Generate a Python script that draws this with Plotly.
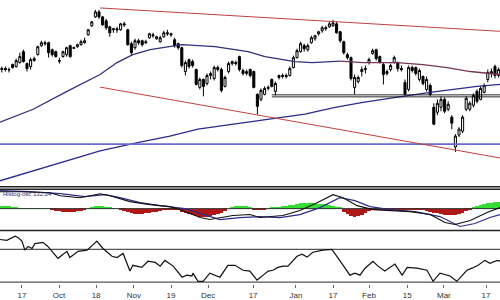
import plotly.graph_objects as go

# ---------------- data ----------------
opens = [130,131,130,135,133,137,148,136,133,139,145,154,157,157,150,148,139,143,145,154,
         152,153,155,157,165,174,183,188,183,179,173,170,171,170,176,170,156,152,159,159,
         158,162,165,161,158,163,167,166,160,156,152,128,140,138,130,112,120,116,124,121,
         132,130,113,128,136,137,143,129,126,130,128,105,100,105,111,120,108,122,123,124,
         124,132,142,148,154,150,157,161,166,169,171,173,174,176,168,158,145,142,112,118,
         128,130,137,146,150,143,135,126,130,137,137,131,117,110,132,132,120,123,110,114,
         92,87,92,100,90,82,52,64,68,90,90,94,108,100,107,120,126,133,124]
highs = [133,133,132,136,141,147,150,137,142,143,154,159,159,158,151,149,142,149,153,155,
         153,156,160,162,171,179,190,190,184,181,174,172,173,177,178,171,158,161,161,160,
         160,167,167,164,164,169,170,167,162,157,153,139,141,140,131,122,121,126,128,134,
         134,132,124,138,139,139,144,131,130,131,129,106,111,113,114,121,118,125,126,126,
         133,144,151,158,156,156,164,165,169,174,174,178,180,178,169,159,147,143,125,124,
         133,134,142,151,151,144,137,130,136,144,138,134,120,134,134,133,131,124,123,116,
         96,100,103,102,98,84,65,72,84,103,98,106,110,113,116,130,131,135,132]
lows = [127,128,127,131,132,136,137,128,130,138,144,153,154,142,143,142,136,142,143,142,
        151,152,154,156,164,173,182,181,174,170,163,167,167,169,173,154,144,150,155,153,
        156,161,162,160,157,162,164,163,152,150,132,124,131,132,114,110,103,114,120,119,
        128,107,112,126,134,134,128,124,124,122,111,85,98,104,109,112,104,120,121,121,
        123,131,141,147,148,148,156,159,164,167,169,172,173,166,157,145,140,119,105,116,
        123,126,135,145,139,136,115,124,128,136,128,128,104,108,127,124,118,114,108,103,
        74,84,88,86,88,70,47,62,66,88,88,92,96,99,106,117,122,121,122]
closes = [131,130,129.7,132,139,143,138,131,140,141,153,157,156,147,145,143,138.5,148,152,143,
          151.5,155,158,159,170,178,188,183,175,172,167,171,170,176,175,155,147,159,157,155,
          157,166,164,163,162,167,166,165,154,152,134,137,133,134,115,120,113,124,126,132,
          130,109,122,136,138,136,130,126,128,124,112,93,109,111,112,113,116,124,124,123,
          131,142,149,156,151,154,162,164,168,172,172,176,177,167,159,147,142,121,122,122,
          130,131,140,149,141,137,125,128,134,142,131,130,105,132,129,126,129,116,120,105,
          75,96,100,88,95,76,63,70,82,101,96,104,98,111,114,127,128,124,130]
sessions = list(range(len(opens)))

# 50-session moving average (sparse readings: session, value)
ma50_s = [-0.5, 8.7, 18.1, 27.3, 32, 36.4, 41.2, 46.7, 50.1, 59.2, 68.4, 73.1, 77.8, 81.4, 86.2, 89.8, 94]
ma50_v = [77, 90, 108, 125, 137, 145, 150, 153, 155, 153, 148, 143, 140, 138, 137, 138, 138.5]
ma50b_s = [94, 100.3, 109.8, 117, 123.7, 130.1, 138.4]
ma50b_v = [138.5, 137, 137, 135, 132, 128, 125]
# 200-session moving average
ma200_s = [-0.5, 13.4, 27.3, 38.4, 46.7, 54.5, 64, 76.7, 84.2, 92.6, 100.3, 111.4, 119, 132, 138.4]
ma200_v = [18, 33, 48, 57, 63, 70, 75, 81, 85, 92, 97, 103, 107, 113, 115]
# trend channel (start/end session, value)
upper_s = [27.3, 138.4]
upper_v = [192, 168.5]
lower_s = [27.3, 138.4]
lower_v = [112.3, 41]
support_level = 55
box_levels = [104.5, 102.5]
box_start = 75

# MACD panel
hist = [3,3,3,2,
        1,0.5,0.5,0.5,0.5,0.5,0.3,0.3,0.3,0,
        -1,-2,-2.5,-3,-3,-3,-3,-2.5,-2,
        -1,0.5,
        2,3,3,3,2,
        1,0.5,0,-0.5,
        -2,-3,-4,-5,-5,-5,-4.5,-4,-3.5,-3,-2,
        -1,-1,-1,-1,-1.5,
        -3,-4,-5,-6,-7,-8,-8,-8,-7,-6,-5,-4,-2,
        0,
        2,3,3,3,2.5,1,
        -1,-1.5,-1.5,-1,
        0.5,1,1.5,
        2,2.5,3,3.5,4,5,5.5,6,6,6,5.5,5,5,4.5,4,
        3,2,1,
        -3,-5,-7,-8,-7,-6,-4,-2,
        -1,-1,-1,-1.5,-1.5,-1,-0.5,-0.5,-0.5,-0.5,
        -0.5,-0.5,-0.5,-1,-1,-2,
        -3,-4,-4,-5,-6,-6,-6,-6,-5,-4,-2,-1,
        2,3,4,5,6,6,7,7]
macd_s = [-0.5, 5.1, 13.4, 16.2, 21.7, 27.3, 30.1, 35.6, 41.2, 46.7, 49.5, 55.1, 57.8, 61.4, 64.2, 68.9,
          71.7, 78.1, 82.8, 87.6, 92, 94.8, 98.7, 103.1, 107.8, 113.4, 119, 123.1, 125.9, 130.1, 134.8, 138.4]
macd_v = [17, 17, 16, 13, 11, 15, 13, 7, 4, 2, -1, -9, -11, -9, -7, -6,
          -9, -7, -2, 6, 14, 11, 3, -1, -2, -3, -6, -14, -16, -12, -4, 1]
signal_s = [-0.5, 7.8, 16.2, 23.1, 28.7, 32.8, 38.4, 43.9, 50.9, 56.4, 60.6, 66.2, 71.7, 77.3, 82.8,
            88.4, 93.9, 98.1, 102.3, 107.8, 114.8, 121.7, 127.3, 131.4, 135.6, 138.4]
signal_v = [18, 17, 15, 12, 14, 11, 6, 3, 0, -6, -11, -9, -8, -9, -6,
            1, 11, 8, 2, -1, -3, -8, -18, -15, -9, -6]
macd_label = "Histog-osc 132.24"

# RSI panel
rsi_s = [-0.5, 1.4, 3.7, 4.5, 5.6, 6.4, 7.3, 8.4, 9.2, 11.4, 12.8, 15.6, 18.1, 18.9, 21.2, 23.7, 26.4, 28.1,
         30.6, 32, 33.7, 35.6, 36.4, 38.9, 40.6, 42.6, 44, 45.3, 47.6, 50.1, 51.4, 52.8, 53.1, 54.5, 55.9,
         57.8, 60.6, 62.8, 64.8, 67, 68.9, 70.9, 72.6, 74, 75.3, 76.7, 78.1, 79.5, 82, 83.4, 84.8, 86.4,
         89.2, 91.7, 94, 96.7, 98.1, 99.5, 100.9, 103.1, 104.5, 106.4, 109.2, 111.2, 112.6, 115.3, 118.1,
         119.8, 121.7, 124.5, 126.4, 129.2, 130.6, 132.3, 134.2, 135.6, 137.6, 138.4]
rsi_v = [82, 81, 86, 84.5, 80, 69, 73.5, 71, 77, 78.5, 73.5, 59, 67.5, 60, 67.5, 69, 80, 71,
         61.5, 60, 65, 43.5, 50.5, 48, 55.5, 54, 49.5, 56.5, 49.5, 36, 38.5, 37.5, 41, 31, 31,
         41, 36, 50.5, 50.5, 44.5, 43.5, 32.5, 38.5, 43.5, 44.5, 48, 49.5, 49.5, 61.5, 64, 60.5, 66.5,
         69, 70, 55.5, 38.5, 41, 38.5, 47, 55.5, 49.5, 43.5, 52, 38.5, 48, 47, 44.5,
         31, 41, 37.5, 31, 44.5, 47, 50.5, 56.5, 53, 56.5, 55.5]
rsi_levels = [70, 30]

tick_pos = [5.6, 15.9, 26.2, 36.7, 47, 57.3, 69.8, 81.7, 92, 102, 112.6, 122.8, 134.5]
tick_text = ["17", "Oct", "18", "Nov", "19", "Dec", "17", "Jan", "17", "Feb", "15", "Mar", "17"]

# ---------------- figure ----------------
xr = [-0.5, 500 / 3.6 - 0.5]

fig = go.Figure()

line_kw = dict(mode="lines", hoverinfo="skip", showlegend=False)
fig.add_trace(go.Scatter(x=ma200_s, y=ma200_v, line=dict(color="#2c2c8c", width=1.3), **line_kw))
fig.add_trace(go.Scatter(x=[xr[0], xr[1]], y=[support_level] * 2, line=dict(color="#6a6ad0", width=1.8), **line_kw))
fig.add_trace(go.Scatter(x=upper_s, y=upper_v, line=dict(color="#c04040", width=1), **line_kw))
fig.add_trace(go.Scatter(x=lower_s, y=lower_v, line=dict(color="#c04040", width=1), **line_kw))
fig.add_trace(go.Scatter(x=ma50_s, y=ma50_v, line=dict(color="#30307e", width=1.3), **line_kw))
fig.add_trace(go.Scatter(x=ma50b_s, y=ma50b_v, line=dict(color="#7a3456", width=1.3), **line_kw))
for lv in box_levels:
    fig.add_trace(go.Scatter(x=[box_start, xr[1]], y=[lv, lv], line=dict(color="#111111", width=0.9), **line_kw))

fig.add_trace(go.Candlestick(
    x=sessions, open=opens, high=highs, low=lows, close=closes,
    increasing=dict(line=dict(color="black", width=1), fillcolor="white"),
    decreasing=dict(line=dict(color="black", width=1), fillcolor="black"),
    whiskerwidth=0, showlegend=False, hoverinfo="skip",
))

# MACD panel
fig.add_trace(go.Bar(x=sessions, y=hist, xaxis="x2", yaxis="y2",
                     marker=dict(color=["#33dd33" if h >= 0 else "#b01818" for h in hist], line=dict(width=0)),
                     showlegend=False, hoverinfo="skip"))
fig.add_trace(go.Scatter(x=[xr[0], xr[1]], y=[0, 0], xaxis="x2", yaxis="y2",
                         line=dict(color="#333333", width=1), **line_kw))
fig.add_trace(go.Scatter(x=signal_s, y=signal_v, xaxis="x2", yaxis="y2",
                         line=dict(color="#2c2c8c", width=1.2), **line_kw))
fig.add_trace(go.Scatter(x=macd_s, y=macd_v, xaxis="x2", yaxis="y2",
                         line=dict(color="#111111", width=1.1), **line_kw))

# RSI panel
for lv in rsi_levels:
    fig.add_trace(go.Scatter(x=[xr[0], xr[1]], y=[lv, lv], xaxis="x3", yaxis="y3",
                             line=dict(color="#555555", width=1.2), **line_kw))
fig.add_trace(go.Scatter(x=rsi_s, y=rsi_v, xaxis="x3", yaxis="y3",
                         line=dict(color="#111111", width=1.2), **line_kw))

H = 300.0
def py(px):
    return 1 - px / H

xcommon = dict(range=xr, showgrid=False, zeroline=False, showline=False, fixedrange=True)
fig.update_layout(
    width=500, height=300,
    margin=dict(l=0, r=0, t=0, b=0),
    paper_bgcolor="white", plot_bgcolor="white",
    showlegend=False, bargap=0, boxgap=0.18,
    font=dict(family="Liberation Sans, Arial, sans-serif"),
    xaxis=dict(**xcommon, anchor="y", showticklabels=False, rangeslider=dict(visible=False)),
    xaxis2=dict(**xcommon, anchor="y2", showticklabels=False),
    xaxis3=dict(**xcommon, anchor="y3", tickmode="array", tickvals=tick_pos, ticktext=tick_text,
                ticks="outside", ticklen=3, tickcolor="#666666",
                tickfont=dict(size=8, color="#333333")),
    yaxis=dict(domain=[py(188), 1], range=[12, 200], visible=False, fixedrange=True),
    yaxis2=dict(domain=[py(232), py(190)], range=[-22, 20], visible=False, fixedrange=True),
    yaxis3=dict(domain=[py(286), py(236)], range=[27.58, 88.18], visible=False, fixedrange=True),
    shapes=[
        dict(type="line", xref="paper", yref="paper", x0=0, x1=1, y0=py(188), y1=py(188),
             line=dict(color="#222222", width=1.5)),
        dict(type="line", xref="paper", yref="paper", x0=0, x1=1, y0=py(190.5), y1=py(190.5),
             line=dict(color="#222222", width=1.5)),
        dict(type="line", xref="paper", yref="paper", x0=0, x1=1, y0=py(232), y1=py(232),
             line=dict(color="#222222", width=1.5)),
    ],
    annotations=[dict(text=macd_label, xref="paper", yref="paper", x=0.002, y=py(190.5),
                      xanchor="left", yanchor="top", showarrow=False,
                      font=dict(size=6, color="#2c2c6c"))],
)

fig.write_html("out.html")
